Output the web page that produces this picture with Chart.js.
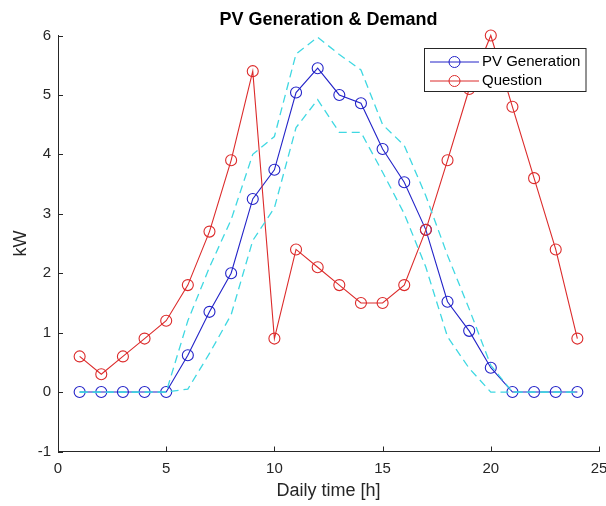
<!DOCTYPE html>
<html>
<head>
<meta charset="utf-8">
<script src="https://cdn.jsdelivr.net/npm/chart.js@4.4.1/dist/chart.umd.min.js"></script>
<style>
  html, body { margin: 0; padding: 0; background: #fff; }
</style>
</head>
<body>
<canvas id="chart" width="606" height="506"></canvas>
<script>
const hours = [1, 2, 3, 4, 5, 6, 7, 8, 9, 10, 11, 12, 13, 14, 15, 16, 17, 18, 19, 20, 21, 22, 23, 24];
const pvGeneration = [0, 0, 0, 0, 0, 0.62, 1.35, 2.0, 3.25, 3.74, 5.04, 5.45, 5.0, 4.86, 4.09, 3.53, 2.73, 1.52, 1.03, 0.41, 0, 0, 0, 0];
const question = [0.6, 0.3, 0.6, 0.9, 1.2, 1.8, 2.7, 3.9, 5.4, 0.9, 2.4, 2.1, 1.8, 1.5, 1.5, 1.8, 2.73, 3.9, 5.1, 6.0, 4.8, 3.6, 2.4, 0.9];
const pvUpper = [0, 0, 0, 0, 0, 1.2, 2.1, 2.9, 4.0, 4.3, 5.69, 5.97, 5.68, 5.42, 4.5, 4.15, 3.3, 2.3, 1.4, 0.45, 0, 0, 0, 0];
const pvLower = [0, 0, 0, 0, 0, 0.05, 0.65, 1.3, 2.55, 3.1, 4.45, 4.92, 4.37, 4.37, 3.7, 3.0, 2.1, 0.93, 0.4, 0, 0, 0, 0, 0];
const xTicks = [0, 5, 10, 15, 20, 25];
const yTicks = [-1, 0, 1, 2, 3, 4, 5, 6];

const FONT = "'Liberation Sans', Arial, Helvetica, sans-serif";
const AXIS = "#262626";
const BLUE = "#2323c8";
const RED = "#dc2b2b";
const CYAN = "#3fd8e2";

const toPoints = ys => hours.map((h, i) => ({ x: h, y: ys[i] }));

// title, inward ticks and the boxed legend, drawn the MATLAB way
const matlabBits = {
  id: "matlabBits",
  beforeDatasetsDraw(chart) {
    const { ctx, chartArea: a, scales } = chart;
    ctx.save();
    ctx.strokeStyle = AXIS;
    ctx.lineWidth = 1;
    ctx.beginPath();
    yTicks.forEach(v => {
      const y = Math.round(scales.y.getPixelForValue(v)) + 0.5;
      ctx.moveTo(a.left, y);
      ctx.lineTo(a.left + 5, y);
    });
    xTicks.forEach(v => {
      const x = Math.round(scales.x.getPixelForValue(v)) + 0.5;
      ctx.moveTo(x, a.bottom);
      ctx.lineTo(x, a.bottom - 5);
    });
    ctx.stroke();

    ctx.fillStyle = "#000";
    ctx.font = "bold 18px " + FONT;
    ctx.textAlign = "center";
    ctx.textBaseline = "middle";
    ctx.fillText("PV Generation & Demand", (a.left + a.right) / 2, 20);
    ctx.restore();
  },
  afterDraw(chart) {
    const { ctx, chartArea: a } = chart;
    const left = a.right - 175, top = a.top + 12.5, w = 161.5, h = 43;
    ctx.save();
    ctx.fillStyle = "#fff";
    ctx.fillRect(left, top, w, h);
    ctx.strokeStyle = AXIS;
    ctx.lineWidth = 1;
    ctx.strokeRect(Math.round(left) + 0.5, Math.round(top) + 0.5, w, h);
    ctx.font = "15px " + FONT;
    ctx.textBaseline = "middle";
    ctx.textAlign = "left";
    chart.data.datasets.slice(0, 2).forEach((ds, i) => {
      const y = top + 14 + i * 19;
      ctx.strokeStyle = ds.borderColor;
      ctx.beginPath();
      ctx.moveTo(left + 6, y);
      ctx.lineTo(left + 55, y);
      ctx.stroke();
      ctx.beginPath();
      ctx.arc(left + 30.5, y, 5.5, 0, Math.PI * 2);
      ctx.stroke();
      ctx.fillStyle = "#000";
      ctx.fillText(ds.label, left + 58, y);
    });
    ctx.restore();
  }
};

const markerLine = (label, data, color, order) => ({
  label,
  data: toPoints(data),
  borderColor: color,
  borderWidth: 1.1,
  pointStyle: "circle",
  pointRadius: 5.5,
  pointBorderWidth: 1.1,
  pointBorderColor: color,
  pointBackgroundColor: "rgba(0,0,0,0)",
  pointHoverRadius: 5.5,
  tension: 0,
  clip: false,
  order
});

const bandLine = (label, data) => ({
  label,
  data: toPoints(data),
  borderColor: CYAN,
  borderWidth: 1.3,
  borderDash: [8, 5],
  pointRadius: 0,
  tension: 0,
  clip: false,
  order: 0
});

new Chart(document.getElementById("chart"), {
  type: "line",
  data: {
    datasets: [
      markerLine("PV Generation", pvGeneration, BLUE, 2),
      markerLine("Question", question, RED, 1),
      bandLine("Upper", pvUpper),
      bandLine("Lower", pvLower)
    ]
  },
  options: {
    responsive: false,
    animation: false,
    events: [],
    layout: { padding: { top: 35.5, right: 7, bottom: 0, left: 0 } },
    plugins: {
      legend: { display: false },
      title: { display: false },
      tooltip: { enabled: false }
    },
    scales: {
      x: {
        type: "linear",
        min: 0,
        max: 25,
        afterBuildTicks: s => { s.ticks = xTicks.map(v => ({ value: v })); },
        afterFit: s => { s.height = 54.5; s.paddingLeft = 0; s.paddingRight = 0; },
        grid: { drawOnChartArea: false, drawTicks: false },
        border: { display: true, color: AXIS, width: 1 },
        ticks: { color: AXIS, padding: 8, maxRotation: 0, font: { family: FONT, size: 15 } },
        title: { display: true, text: "Daily time [h]", color: AXIS, padding: { top: 4, bottom: 4 }, font: { family: FONT, size: 18 } }
      },
      y: {
        min: -1,
        max: 6,
        afterBuildTicks: s => { s.ticks = yTicks.map(v => ({ value: v })); },
        afterFit: s => { s.width = 58; },
        grid: { drawOnChartArea: false, drawTicks: false },
        border: { display: true, color: AXIS, width: 1 },
        ticks: { color: AXIS, padding: 7, font: { family: FONT, size: 15 } },
        title: { display: true, text: "kW", color: AXIS, padding: { top: 10, bottom: 0 }, font: { family: FONT, size: 18 } }
      }
    }
  },
  plugins: [matlabBits]
});
</script>
</body>
</html>
